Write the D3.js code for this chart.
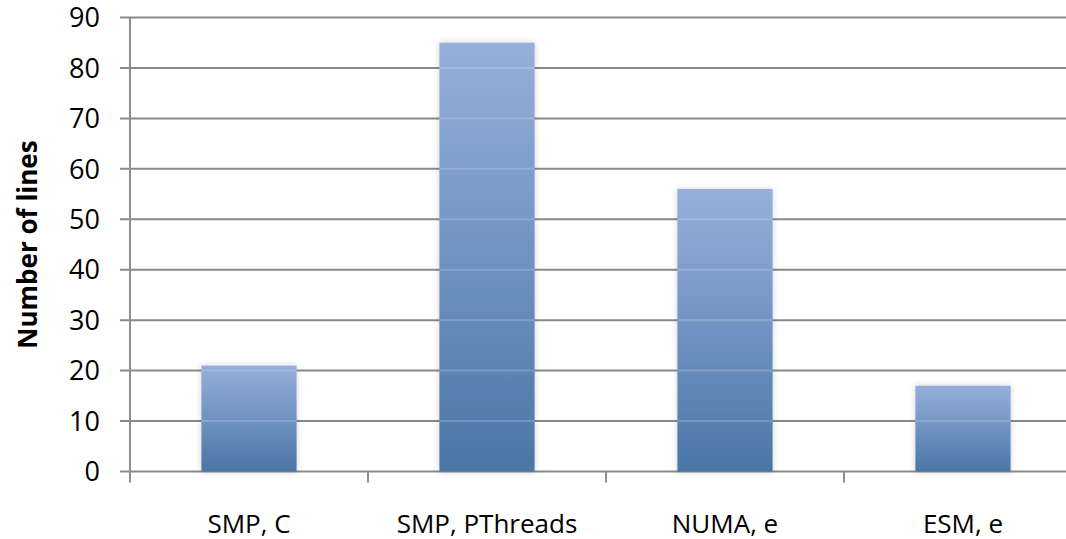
<!DOCTYPE html>
<html>
<head>
<meta charset="utf-8">
<script src="https://cdn.jsdelivr.net/npm/d3@7"></script>
<style>
  html, body { margin: 0; padding: 0; background: #fff; }
  svg { display: block; }
  text { font-family: "Open Sans", "Liberation Sans", sans-serif; fill: #000; }
</style>
</head>
<body>
<svg id="chart" width="1066" height="539"></svg>
<script>
// Lines of code per implementation
const categories = ["SMP, C", "SMP, PThreads", "NUMA, e", "ESM, e"];
const lineCounts = [21, 85, 56, 17];
const yTicks = [0, 10, 20, 30, 40, 50, 60, 70, 80, 90];
const yTitle = "Number of lines";

const svg = d3.select("#chart");
const W = 1066, H = 539;
const plot = { left: 130, right: 1082, top: 17.5, bottom: 471.5 };

const x = d3.scaleBand()
  .domain(categories)
  .range([plot.left, plot.right])
  .paddingInner(0.6)
  .paddingOuter(0.3);

const y = d3.scaleLinear()
  .domain([0, 90])
  .range([plot.bottom, plot.top]);

const defs = svg.append("defs");
const grad = defs.append("linearGradient")
  .attr("id", "barFill")
  .attr("x1", 0).attr("y1", 0).attr("x2", 0).attr("y2", 1);
grad.append("stop").attr("offset", "0%").attr("stop-color", "#96afdb");
grad.append("stop").attr("offset", "100%").attr("stop-color", "#4a76a6");

const shadow = defs.append("filter")
  .attr("id", "barShadow")
  .attr("x", "-20%").attr("y", "-20%").attr("width", "140%").attr("height", "140%");
shadow.append("feDropShadow")
  .attr("dx", 0).attr("dy", 0)
  .attr("stdDeviation", 3)
  .attr("flood-color", "#000")
  .attr("flood-opacity", 0.18);

// Horizontal gridlines, extended left as tick marks
svg.append("g")
  .selectAll("line")
  .data(yTicks)
  .join("line")
  .attr("x1", plot.left - 10)
  .attr("x2", W)
  .attr("y1", d => y(d))
  .attr("y2", d => y(d))
  .attr("stroke", "#898989")
  .attr("stroke-width", 2);

// Y axis line
svg.append("line")
  .attr("x1", plot.left).attr("x2", plot.left)
  .attr("y1", y(90)).attr("y2", plot.bottom + 11)
  .attr("stroke", "#8f8f8f")
  .attr("stroke-width", 2);

// Category separator ticks below the baseline
const sepTicks = categories.map((c, i) => x(c) - x.step() * x.paddingOuter());
svg.append("g")
  .selectAll("line")
  .data(sepTicks.slice(1))
  .join("line")
  .attr("x1", d => d).attr("x2", d => d)
  .attr("y1", plot.bottom).attr("y2", plot.bottom + 11)
  .attr("stroke", "#8f8f8f")
  .attr("stroke-width", 2);

// Bars
const bars = svg.append("g");
bars.selectAll("rect")
  .data(categories.map((c, i) => ({ c, v: lineCounts[i] })))
  .join("rect")
  .attr("x", d => x(d.c))
  .attr("y", d => y(d.v))
  .attr("width", x.bandwidth())
  .attr("height", d => y(0) - y(d.v))
  .attr("fill", "url(#barFill)")
  .attr("filter", "url(#barShadow)");

// Faint gridline highlights across the bars
const highlights = [];
categories.forEach((c, i) => {
  yTicks.filter(t => t > 0 && t < lineCounts[i]).forEach(t => highlights.push({ c, t }));
});
bars.selectAll("line")
  .data(highlights)
  .join("line")
  .attr("x1", d => x(d.c))
  .attr("x2", d => x(d.c) + x.bandwidth())
  .attr("y1", d => y(d.t))
  .attr("y2", d => y(d.t))
  .attr("stroke", "#ffffff")
  .attr("stroke-opacity", 0.18)
  .attr("stroke-width", 2);

// Y tick labels
svg.append("g")
  .selectAll("text")
  .data(yTicks)
  .join("text")
  .attr("x", 100)
  .attr("y", d => y(d))
  .attr("dy", "0.36em")
  .attr("text-anchor", "end")
  .attr("font-size", 27)
  .text(d => d);

// Category labels
svg.append("g")
  .selectAll("text")
  .data(categories)
  .join("text")
  .attr("x", d => x(d) + x.bandwidth() / 2)
  .attr("y", 533)
  .attr("text-anchor", "middle")
  .attr("font-size", 26)
  .text(d => d);

// Y axis title
svg.append("text")
  .attr("transform", `translate(37, ${y(45)}) rotate(-90)`)
  .attr("text-anchor", "middle")
  .attr("font-size", 26)
  .attr("font-weight", "bold")
  .text(yTitle);
</script>
</body>
</html>
